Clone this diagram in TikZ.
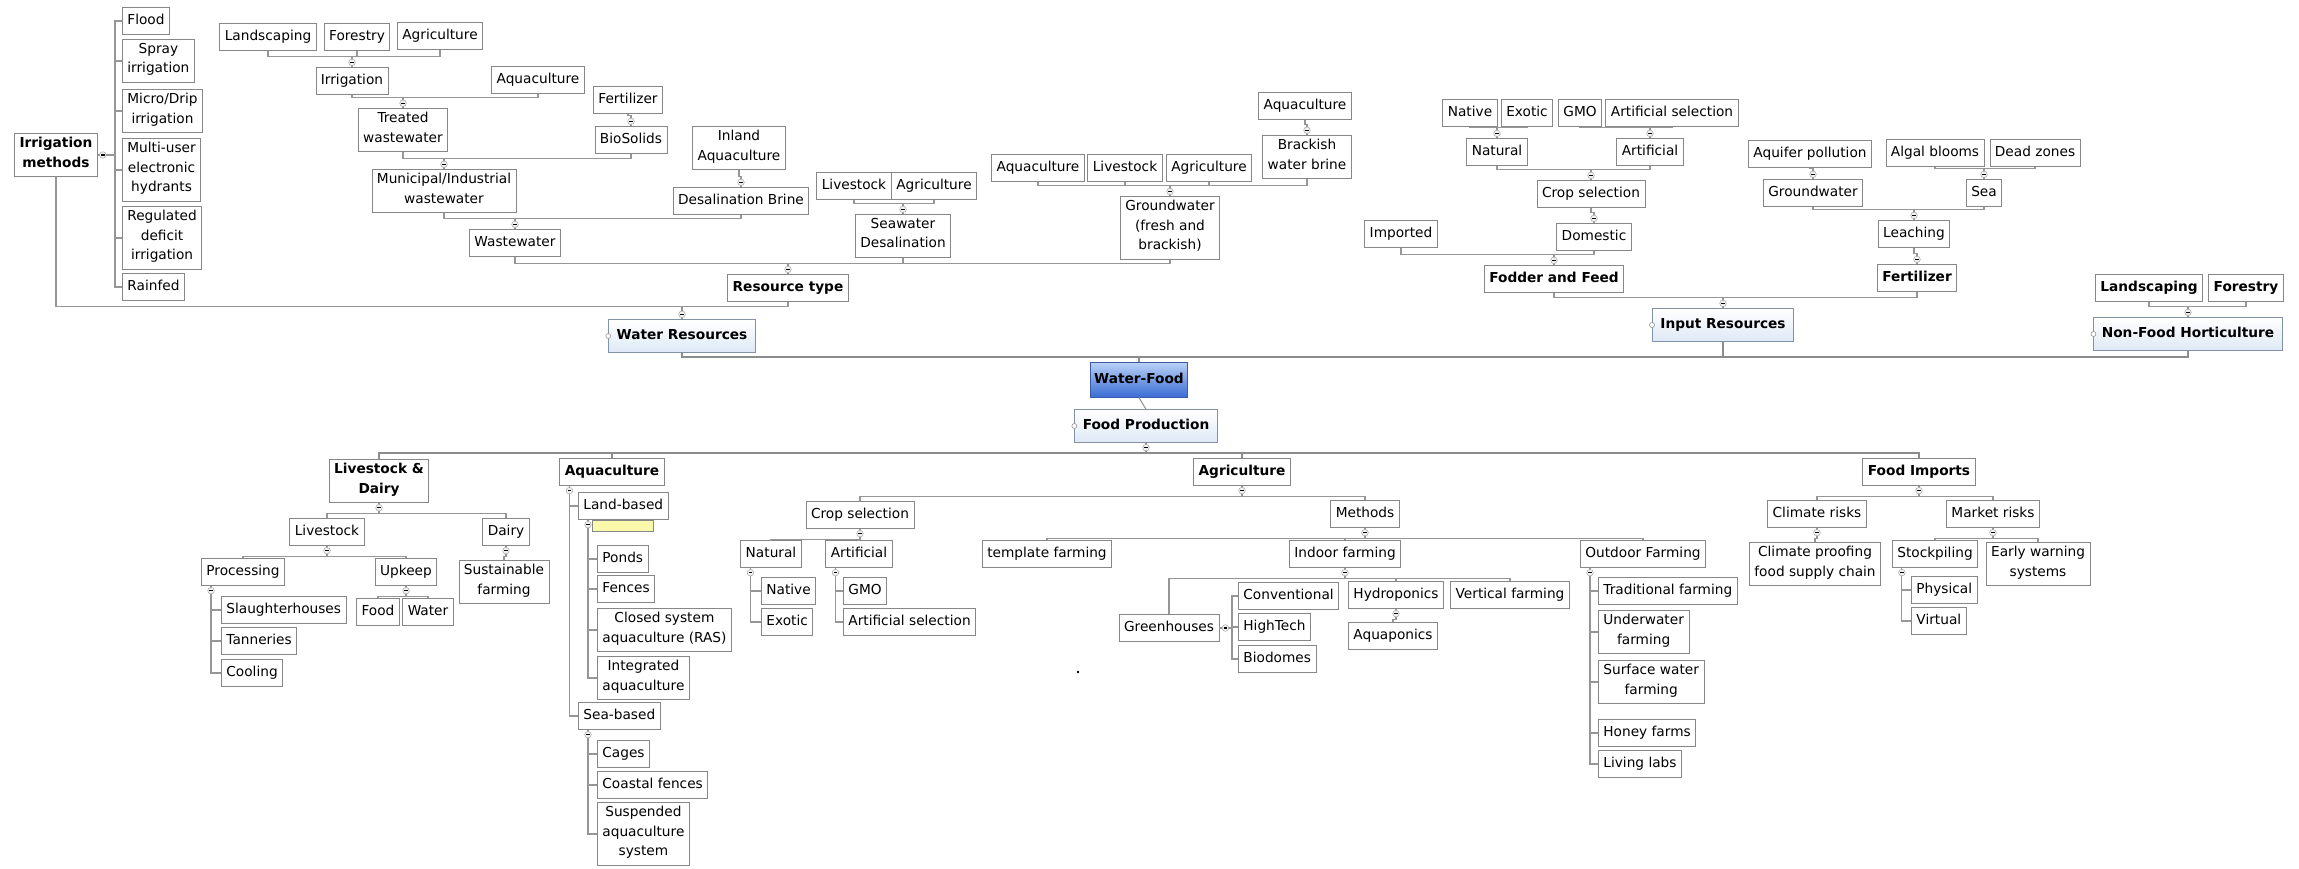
\documentclass[tikz,border=0pt]{standalone}
\usepackage{fontspec}
\setmainfont{DejaVu Sans}
\definecolor{boxline}{RGB}{135,135,135}
\definecolor{linkgray}{RGB}{150,150,150}
\definecolor{spinegray}{RGB}{140,140,140}
\definecolor{mainfill}{RGB}{222,233,246}
\definecolor{mainline}{RGB}{130,145,165}
\definecolor{rootlight}{RGB}{185,208,246}
\definecolor{rootdark}{RGB}{58,108,212}
\definecolor{rootline}{RGB}{60,90,165}
\definecolor{notefill}{RGB}{250,248,170}
\newcommand{\mapfont}{\fontsize{13.7}{19.5}\selectfont}

\begin{document}
\begin{tikzpicture}[x=1pt,y=-1pt,
  box/.style={draw=boxline, fill=white, line width=0.8pt, inner xsep=5pt, inner ysep=3.5pt,
    align=center, font=\mapfont, execute at begin node=\strut, execute at end node=\strut},
  bbox/.style={box, font=\mapfont\bfseries},
  mainbox/.style={bbox, inner xsep=8pt, inner ysep=6.5pt, draw=mainline, top color=white, bottom color=mainfill},
  rootbox/.style={bbox, inner xsep=4pt, inner ysep=7.5pt, draw=rootline, top color=rootlight, bottom color=rootdark},
  notebox/.style={draw=boxline, fill=notefill, line width=0.5pt, minimum width=61pt, minimum height=11pt, inner sep=0pt},
  link/.style={draw=linkgray, line width=1.1pt},
  spine/.style={draw=spinegray, line width=2.2pt},
  fold/.pic={\draw[draw=gray!70, fill=gray!10, line width=0.5pt] (0,0) circle (3.3pt);
             \draw[black, line width=1.1pt] (-1.8pt,0) -- (1.8pt,0);},
]
\fill[white] (0,0) rectangle (2299,868);
\useasboundingbox (0,0) rectangle (2299,868);

% ---------------- root and first level ----------------
\node[rootbox] (wf) at (1139,380) {Water-Food};
\node[mainbox] (wr) at (682,336) {Water Resources};
\node[mainbox] (input) at (1723,325) {Input Resources};
\node[mainbox] (nfh) at (2188,334) {Non-Food Horticulture};
\node[mainbox] (fp) at (1146,426) {Food Production};

% ---------------- water resources ----------------
\node[bbox] (im) at (56,155) {Irrigation\\methods};
\node[box, anchor=west] (flood) at (122,21) {Flood};
\node[box, anchor=west] (spray) at (122,61) {Spray\\irrigation};
\node[box, anchor=west] (micro) at (122,111) {Micro/Drip\\irrigation};
\node[box, anchor=west] (multi) at (122,170) {Multi-user\\electronic\\hydrants};
\node[box, anchor=west] (regul) at (122,238) {Regulated\\deficit\\irrigation};
\node[box, anchor=west] (rainf) at (122,287) {Rainfed};

\node[box] (land1) at (268,37) {Landscaping};
\node[box] (forest1) at (357,37) {Forestry};
\node[box] (agri1) at (440,36) {Agriculture};
\node[box] (irr) at (352,81) {Irrigation};
\node[box] (aqua1) at (538,80) {Aquaculture};
\node[box] (treated) at (403,130) {Treated\\wastewater};
\node[box] (fert1) at (628,100) {Fertilizer};
\node[box] (bios) at (631,140) {BioSolids};
\node[box] (muni) at (444,191) {Municipal/Industrial\\wastewater};
\node[box] (inland) at (739,148) {Inland\\Aquaculture};
\node[box] (desal) at (741,201) {Desalination Brine};
\node[box] (waste) at (515,243) {Wastewater};
\node[bbox] (rtype) at (788,288) {Resource type};
\node[box] (live2) at (854,186) {Livestock};
\node[box] (agri2) at (934,186) {Agriculture};
\node[box] (sdesal) at (903,236) {Seawater\\Desalination};
\node[box] (aqua3) at (1038,168) {Aquaculture};
\node[box] (live3) at (1125,168) {Livestock};
\node[box] (agri3) at (1209,168) {Agriculture};
\node[box] (brack) at (1307,157) {Brackish\\water brine};
\node[box] (aqua4) at (1305,106) {Aquaculture};
\node[box] (gw) at (1170,228) {Groundwater\\(fresh and\\brackish)};

% ---------------- input resources ----------------
\node[box] (native) at (1470,113) {Native};
\node[box] (exotic) at (1527,113) {Exotic};
\node[box] (gmo) at (1580,113) {GMO};
\node[box] (artsel1) at (1672,113) {Artificial selection};
\node[box] (natural1) at (1497,152) {Natural};
\node[box] (artif1) at (1650,152) {Artificial};
\node[box] (crop1) at (1591,194) {Crop selection};
\node[box] (domestic) at (1594,237) {Domestic};
\node[box] (imported) at (1401,234) {Imported};
\node[bbox] (fodder) at (1554,279) {Fodder and Feed};
\node[box] (aquif) at (1810,154) {Aquifer pollution};
\node[box] (gw2) at (1813,193) {Groundwater};
\node[box] (algal) at (1935,153) {Algal blooms};
\node[box] (dead) at (2035,153) {Dead zones};
\node[box] (sea) at (1984,193) {Sea};
\node[box] (leach) at (1914,234) {Leaching};
\node[bbox] (fert2) at (1917,278) {Fertilizer};

% ---------------- non-food horticulture ----------------
\node[bbox] (land2) at (2149,288) {Landscaping};
\node[bbox] (forest2) at (2246,288) {Forestry};

% ---------------- food production ----------------
\node[bbox] (ld) at (379,481) {Livestock \&\\Dairy};
\node[bbox] (aq) at (612,472) {Aquaculture};
\node[bbox] (ag) at (1242,472) {Agriculture};
\node[bbox] (fi) at (1919,472) {Food Imports};

\node[box] (livestock) at (327,532) {Livestock};
\node[box] (dairy) at (506,532) {Dairy};
\node[box] (sustain) at (504,582) {Sustainable\\farming};
\node[box] (proc) at (243,572) {Processing};
\node[box] (upkeep) at (406,572) {Upkeep};
\node[box] (food) at (378,612) {Food};
\node[box] (water) at (428,612) {Water};
\node[box, anchor=west] (slaught) at (221,610) {Slaughterhouses};
\node[box, anchor=west] (tann) at (221,641) {Tanneries};
\node[box, anchor=west] (cool) at (221,673) {Cooling};

\node[box, anchor=west] (landb) at (578,506) {Land-based};
\node[notebox] (landnote) at (623,526) {};
\node[box, anchor=west] (ponds) at (597,559) {Ponds};
\node[box, anchor=west] (fences) at (597,589) {Fences};
\node[box, anchor=west] (closed) at (597,630) {Closed system\\aquaculture (RAS)};
\node[box, anchor=west] (integ) at (597,678) {Integrated\\aquaculture};
\node[box, anchor=west] (seab) at (578,716) {Sea-based};
\node[box, anchor=west] (cages) at (597,754) {Cages};
\node[box, anchor=west] (coastal) at (597,785) {Coastal fences};
\node[box, anchor=west] (susp) at (597,834) {Suspended\\aquaculture\\system};

\node[box] (crop2) at (860,515) {Crop selection};
\node[box] (natural2) at (771,554) {Natural};
\node[box] (artif2) at (859,554) {Artificial};
\node[box, anchor=west] (native2) at (761,591) {Native};
\node[box, anchor=west] (exotic2) at (761,622) {Exotic};
\node[box, anchor=west] (gmo2) at (843,591) {GMO};
\node[box, anchor=west] (artsel2) at (843,622) {Artificial selection};

\node[box] (methods) at (1365,514) {Methods};
\node[box] (template) at (1047,554) {template farming};
\node[box] (indoor) at (1345,554) {Indoor farming};
\node[box] (outdoor) at (1643,554) {Outdoor Farming};
\node[box] (green) at (1169,628) {Greenhouses};
\node[box, anchor=west] (conv) at (1238,596) {Conventional};
\node[box, anchor=west] (hitech) at (1238,627) {HighTech};
\node[box, anchor=west] (biod) at (1238,659) {Biodomes};
\node[box] (hydro) at (1396,595) {Hydroponics};
\node[box] (vert) at (1510,595) {Vertical farming};
\node[box] (aquapon) at (1393,636) {Aquaponics};
\node[box, anchor=west] (trad) at (1598,591) {Traditional farming};
\node[box, anchor=west] (under) at (1598,632) {Underwater\\farming};
\node[box, anchor=west] (surf) at (1598,682) {Surface water\\farming};
\node[box, anchor=west] (honey) at (1598,733) {Honey farms};
\node[box, anchor=west] (living) at (1598,764) {Living labs};

\node[box] (climate) at (1817,514) {Climate risks};
\node[box] (market) at (1993,514) {Market risks};
\node[box] (cproof) at (1815,564) {Climate proofing\\food supply chain};
\node[box] (stock) at (1935,554) {Stockpiling};
\node[box] (early) at (2038,564) {Early warning\\systems};
\node[box, anchor=west] (phys) at (1911,590) {Physical};
\node[box, anchor=west] (virt) at (1911,621) {Virtual};

% ---------------- connectors: children above their parent ----------------
\foreach \ch/\pa in {land1/irr, forest1/irr, agri1/irr, irr/treated, aqua1/treated,
    treated/muni, bios/muni, fert1/bios, muni/waste, desal/waste, inland/desal,
    waste/rtype, sdesal/rtype, gw/rtype, live2/sdesal, agri2/sdesal,
    aqua3/gw, live3/gw, agri3/gw, brack/gw, aqua4/brack,
    native/natural1, exotic/natural1, gmo/artif1, artsel1/artif1,
    natural1/crop1, artif1/crop1, crop1/domestic, imported/fodder, domestic/fodder,
    fodder/input, fert2/input, leach/fert2, gw2/leach, sea/leach, aquif/gw2,
    algal/sea, dead/sea, land2/nfh, forest2/nfh}
  \draw[link] (\ch.south) |- ([yshift=11pt]\pa.north) -- (\pa.north);
\foreach \ch in {im, rtype}
  \draw[link] (\ch.south) |- ([yshift=13pt]wr.north) -- (wr.north);

% irrigation methods list
\foreach \ch in {flood, spray, micro, multi, regul, rainf}
  \draw[link] (im.east) -| ([xshift=-7pt]\ch.west) -- (\ch.west);

% main spine
\foreach \pa in {wr, input, nfh}
  \draw[spine] (\pa.south) |- ([yshift=5.5pt]wf.north) -- (wf.north);
\draw[link] (wf.south) -- (fp.north);
\foreach \ch in {ld, aq, ag, fi}
  \draw[spine] (fp.south) -- ([yshift=-10pt]fp.south) -| (\ch.north);

% ---------------- connectors: children below their parent ----------------
\foreach \pa/\ch in {ld/livestock, ld/dairy, livestock/proc, livestock/upkeep,
    upkeep/food, upkeep/water, dairy/sustain, ag/crop2, ag/methods,
    crop2/natural2, crop2/artif2, methods/template, methods/indoor, methods/outdoor,
    indoor/green, indoor/hydro, indoor/vert, hydro/aquapon,
    fi/climate, fi/market, climate/cproof, market/stock, market/early}
  \draw[link] (\pa.south) -- ([yshift=-11pt]\pa.south) -| (\ch.north);

% vertical lists
\foreach \pa/\ch in {proc/slaught, proc/tann, proc/cool, aq/landb, aq/seab,
    landb/ponds, landb/fences, landb/closed, landb/integ,
    seab/cages, seab/coastal, seab/susp,
    natural2/native2, natural2/exotic2, artif2/gmo2, artif2/artsel2,
    outdoor/trad, outdoor/under, outdoor/surf, outdoor/honey, outdoor/living,
    stock/phys, stock/virt}
  \draw[link] ([xshift=10pt]\pa.south west) |- (\ch.west);
\foreach \ch in {conv, hitech, biod}
  \draw[link] (green.east) -| ([xshift=-6pt]\ch.west) -- (\ch.west);

% ---------------- fold markers ----------------
\foreach \pa in {irr, treated, muni, bios, waste, desal, rtype, sdesal, gw, brack, wr,
    natural1, artif1, crop1, domestic, fodder, input, fert2, leach, gw2, sea, nfh}
  \pic at ([yshift=5pt]\pa.north) {fold};
\foreach \pa in {fp, ld, livestock, upkeep, dairy, ag, crop2, methods, indoor, hydro,
    fi, climate, market}
  \pic at ([yshift=-5pt]\pa.south) {fold};
\foreach \pa in {proc, aq, landb, seab, natural2, artif2, outdoor, stock}
  \pic at ([xshift=10pt,yshift=-5pt]\pa.south west) {fold};
\pic at ([xshift=5pt]im.east) {fold};
\pic at ([xshift=6pt]green.east) {fold};

% small side handles of the main topics
\foreach \pa in {wr, input, nfh, fp}
  \draw[boxline, fill=white, line width=0.5pt] (\pa.west) circle (2.5pt);

\fill[black] (1078,672) circle (1.4pt);
\end{tikzpicture}
\end{document}
